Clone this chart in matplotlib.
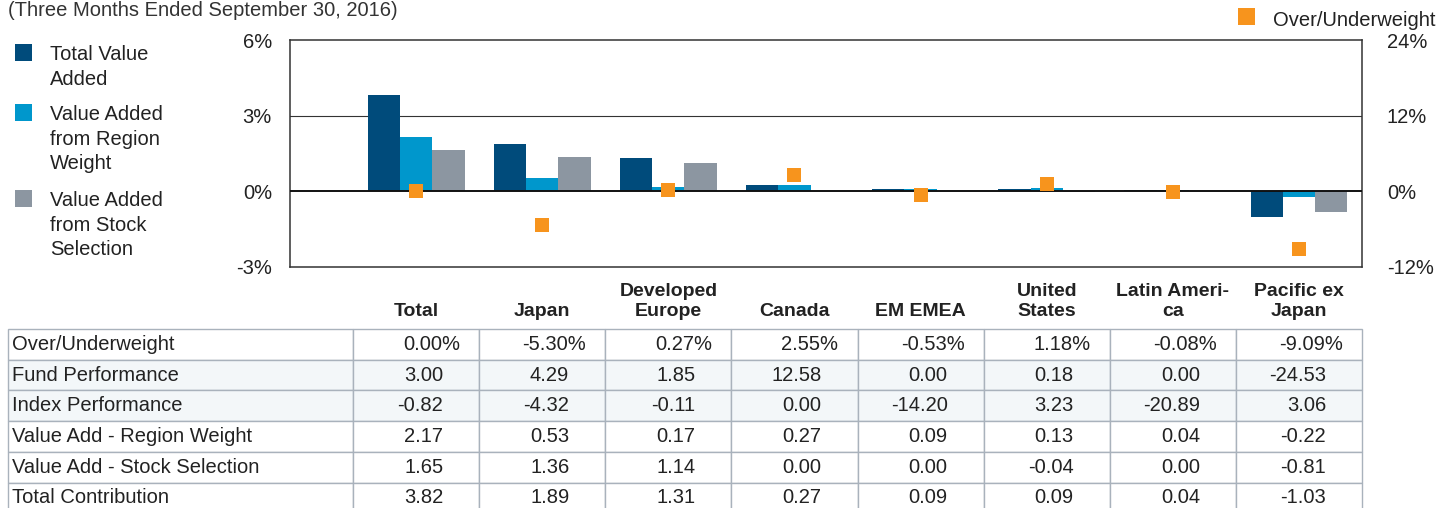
import matplotlib
matplotlib.use('Agg')
import matplotlib.pyplot as plt
from matplotlib.patches import Rectangle
import numpy as np

# ---------------- data ----------------
categories = ['Total', 'Japan', 'Developed\nEurope', 'Canada', 'EM EMEA',
              'United\nStates', 'Latin Ameri-\nca', 'Pacific ex\nJapan']
over_under = [0.00, -5.30, 0.27, 2.55, -0.53, 1.18, -0.08, -9.09]
fund_perf = [3.00, 4.29, 1.85, 12.58, 0.00, 0.18, 0.00, -24.53]
index_perf = [-0.82, -4.32, -0.11, 0.00, -14.20, 3.23, -20.89, 3.06]
va_region = [2.17, 0.53, 0.17, 0.27, 0.09, 0.13, 0.04, -0.22]
va_stock = [1.65, 1.36, 1.14, 0.00, 0.00, -0.04, 0.00, -0.81]
total_contrib = [3.82, 1.89, 1.31, 0.27, 0.09, 0.09, 0.04, -1.03]

row_labels = ['Over/Underweight', 'Fund Performance', 'Index Performance',
              'Value Add - Region Weight', 'Value Add - Stock Selection',
              'Total Contribution']
series_names = ['Total Value\nAdded', 'Value Added\nfrom Region\nWeight',
                'Value Added\nfrom Stock\nSelection']
marker_name = 'Over/Underweight'
left_ticks = [-3, 0, 3, 6]
right_ticks = [-12, 0, 12, 24]
title_text = '(Three Months Ended September 30, 2016)'

# ---------------- style ----------------
plt.rcParams['font.family'] = ['Liberation Sans', 'DejaVu Sans']
series_colors = ['#004B7B', '#0097CC', '#8C96A1']
marker_color = '#F7941D'
text_color = '#222222'
W, H = 1440, 508

fig = plt.figure(figsize=(W / 100, H / 100), dpi=100)
fig.patch.set_facecolor('white')

# ---------------- main chart ----------------
ax = fig.add_axes([290 / W, 1 - 267 / H, 1072 / W, 227 / H])
x = np.arange(len(categories))
bw = 0.256
for i, (vals, col) in enumerate(zip([total_contrib, va_region, va_stock], series_colors)):
    ax.bar(x + (i - 1) * bw, vals, width=bw, color=col, linewidth=0, zorder=2)

ax.set_xlim(-1.0, 7.5)
ax.set_ylim(-3, 6)
ax.set_yticks(left_ticks, [f'{t}%' for t in left_ticks])
ax.axhline(3, color='#333333', lw=0.8, zorder=1)
ax.axhline(0, color='#111111', lw=1.4, zorder=3)
for s in ax.spines.values():
    s.set_color('#333333')
    s.set_linewidth(1.1)
ax.tick_params(axis='y', length=0, pad=13, labelsize=14.5, labelcolor=text_color)

ax.set_xticks(x, categories)
ax.tick_params(axis='x', length=0, pad=38, labelsize=14, labelcolor=text_color)
for lab in ax.get_xticklabels():
    lab.set_verticalalignment('bottom')
    lab.set_fontweight('bold')
    lab.set_linespacing(1.22)

ax2 = ax.twinx()
ax2.set_ylim(-12, 24)
ax2.set_yticks(right_ticks, [f'{t}%' for t in right_ticks])
ax2.tick_params(axis='y', length=0, pad=18, labelsize=14.5, labelcolor=text_color)
for s in ax2.spines.values():
    s.set_visible(False)
ax2.plot(x, over_under, linestyle='none', marker='s', markersize=10,
         color=marker_color, markeredgewidth=0, zorder=4)

# ---------------- legends ----------------
legend_tops = [44, 104, 190]
for name, col, top in zip(series_names, series_colors, legend_tops):
    fig.patches.append(Rectangle((15 / W, 1 - (top + 17) / H), 17 / W, 17 / H,
                                 transform=fig.transFigure, facecolor=col,
                                 edgecolor='none'))
    fig.text(50 / W, 1 - (top + 1) / H, name, fontsize=14.5, color=text_color,
             va='top', ha='left', linespacing=1.38)

fig.patches.append(Rectangle((1238 / W, 1 - 25 / H), 17 / W, 17 / H,
                             transform=fig.transFigure, facecolor=marker_color,
                             edgecolor='none'))
fig.text(1273 / W, 1 - 26 / H, marker_name, fontsize=14.5, color=text_color,
         va='baseline', ha='left')

fig.text(8 / W, 1 - 1 / H, title_text, fontsize=14.5, color='#333333',
         va='top', ha='left')

# ---------------- table ----------------
rows = [over_under, fund_perf, index_perf, va_region, va_stock, total_contrib]
cell_text = []
for r, (lab, vals) in enumerate(zip(row_labels, rows)):
    if r == 0:
        cell_text.append([lab] + [f'{v:.2f}%' for v in vals])
    else:
        cell_text.append([lab] + [f'{v:.2f}' for v in vals])

table_w = 1354.0
first_w = 345.0
col_w = (table_w - first_w) / len(categories)
row_h = 30.7
t_top = 329
t_h = row_h * len(rows)
tax = fig.add_axes([8 / W, 1 - (t_top + t_h) / H, table_w / W, t_h / H])
tax.axis('off')
tbl = tax.table(cellText=cell_text,
                colWidths=[first_w / table_w] + [col_w / table_w] * len(categories),
                bbox=[0, 0, 1, 1], cellLoc='right')
tbl.auto_set_font_size(False)
tbl.set_fontsize(14.5)
for (r, c), cell in tbl.get_celld().items():
    cell.set_edgecolor('#A9B2BC')
    cell.set_linewidth(1.0)
    cell.set_facecolor('#F3F7F9' if r in (1, 2) else 'white')
    cell.get_text().set_color(text_color)
    if c == 0:
        cell.get_text().set_horizontalalignment('left')
        cell.PAD = 4 / first_w
    else:
        cell.PAD = (19 if r == 0 else 36) / col_w

fig.savefig('out.png', dpi=100, facecolor='white')
